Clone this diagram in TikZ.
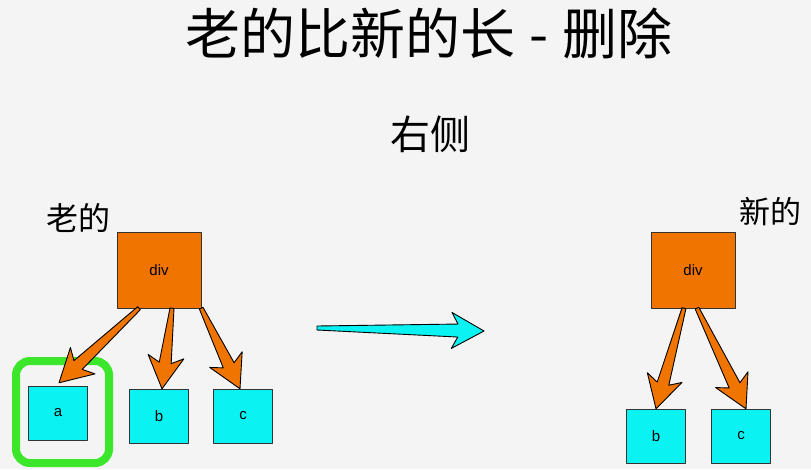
\documentclass[tikz,border=0pt]{standalone}
\usepackage{fontspec}
\setmainfont{Liberation Sans}
\newfontfamily\cjk{Noto Sans CJK SC}
\usetikzlibrary{calc}
\definecolor{bgGray}{HTML}{F4F4F4}
\definecolor{divOrange}{HTML}{F07400}
\definecolor{leafCyan}{HTML}{0AF2F2}
\definecolor{markGreen}{HTML}{3CE62A}
\tikzset{
	divbox/.style={draw=black!80,fill=divOrange,minimum width=84pt,minimum height=76pt,inner sep=0pt,font=\fontsize{15}{15}\selectfont},
	leafbox/.style={draw=black!80,fill=leafCyan,minimum width=59pt,minimum height=54pt,inner sep=0pt,font=\fontsize{15}{15}\selectfont},
	cjktext/.style={inner sep=0pt,font=\cjk\fontsize{#1}{#1}\selectfont},
}
\newcommand{\fatarrow}[5]{%
	\coordinate (fa-j) at ($(#2)!1.45*#5!(#1)$);
	\coordinate (fa-h) at ($(#2)!1.8*#5!(#1)$);
	\filldraw[fill=#3,draw=black,line join=round,line width=0.9pt] ($(#1)!2pt!-90:(#2)$) -- ($(fa-j)!#4!-90:(#2)$) -- ($(fa-h)!#5!-90:(#2)$) -- (#2) -- ($(fa-h)!#5!90:(#2)$) -- ($(fa-j)!#4!90:(#2)$) -- ($(#1)!2pt!90:(#2)$) -- cycle;}
\begin{document}
\begin{tikzpicture}[x=1pt,y=-1pt,line join=round,line cap=round]
		\fill[bgGray] (0,0) rectangle (811,469);
		\useasboundingbox (0,0) rectangle (811,469);
		\node[cjktext=55] (title) at (429,33) {老的比新的长\hspace{0.25em}-\hspace{0.25em}删除};
		\node[cjktext=40] (side) at (430,134) {右侧};
		\node[cjktext=32] (oldL) at (78,218) {老的};
		\node[cjktext=31] (newL) at (770,212) {新的};
		\node[divbox] (divL) at (159,270) {div};
		\node[leafbox] (a) at (58,413) {a};
		\node[leafbox] (bL) at (159,416) {b};
		\node[leafbox] (cL) at (243,416) {c};
		\node[divbox] (divR) at (693,270) {div};
		\node[leafbox] (bR) at (656,436) {b};
		\node[leafbox] (cR) at (741,436) {c};
		\draw[markGreen,line width=8pt,rounded corners=14pt] ([shift={(-42pt,52pt)}]a.center) rectangle ([shift={(51pt,-50pt)}]a.center);
		\coordinate (aS) at ([xshift=-20pt]divL.south);
		\coordinate (aE) at ([shift={(1pt,3pt)}]a.north);
		\coordinate (bS) at ([xshift=13pt]divL.south);
		\coordinate (bE) at ([xshift=3pt]bL.north);
		\coordinate (cS) at (divL.south east);
		\coordinate (cE) at ([xshift=-3pt]cL.north);
		\coordinate (bS2) at ([xshift=-9pt]divR.south);
		\coordinate (bE2) at (bR.north);
		\coordinate (cS2) at ([xshift=4pt]divR.south);
		\coordinate (cE2) at ([xshift=5pt]cR.north);
		\coordinate (mvS) at (317,328);
		\coordinate (mvE) at (484,331);
		\fatarrow{aS}{aE}{divOrange}{6pt}{18pt}
		\fatarrow{bS}{bE}{divOrange}{6pt}{18pt}
		\fatarrow{cS}{cE}{divOrange}{6pt}{18pt}
		\fatarrow{bS2}{bE2}{divOrange}{6pt}{18pt}
		\fatarrow{cS2}{cE2}{divOrange}{6pt}{18pt}
		\fatarrow{mvS}{mvE}{leafCyan}{6.5pt}{18pt}
		\end{tikzpicture}
\end{document}
